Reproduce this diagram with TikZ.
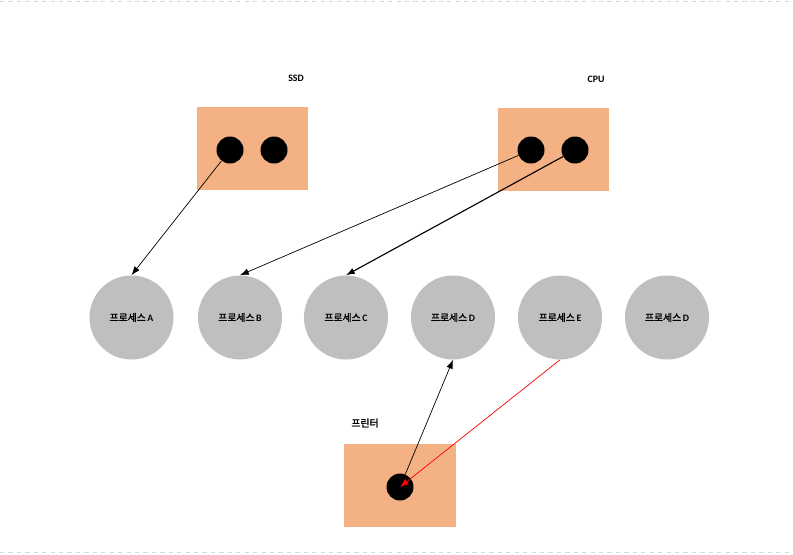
\documentclass[tikz,border=0pt]{standalone}
\usepackage{fontspec}
\setmainfont{Carlito}
\newfontfamily\kr{Noto Sans CJK KR}[AutoFakeBold=2]
\usetikzlibrary{arrows.meta}
\definecolor{boxorange}{RGB}{244,177,131}
\definecolor{procgray}{RGB}{191,191,191}
\definecolor{pagegray}{RGB}{215,215,215}
\begin{document}
\begin{tikzpicture}[x=0.025cm, y=-0.025cm,
    device/.style ={fill=boxorange, minimum width=2.775cm, minimum height=2.075cm, inner sep=0pt},
    slot/.style ={circle, fill=black, inner sep=0pt, minimum size=0.675cm},
    process/.style ={circle, fill=procgray, inner sep=0pt, minimum size=2.1cm, font=\bfseries\fontsize{7}{8}\selectfont},
    devlabel/.style ={font=\bfseries\fontsize{7}{8}\selectfont},
    link/.style ={line width=0.5pt, -{Latex[length=2.2mm, width=1.6mm]}}]
   \useasboundingbox (0,0) rectangle (793,554);
   \draw[pagegray, dashed, line width=0.6pt] (0,1) -- (793,1);
   \draw[pagegray, dashed, line width=0.6pt] (0,552) -- (793,552);
   % devices
   \node[device] (ssd) at (252.5,148.5) {};
   \node[device] (cpu) at (553.5,149.5) {};
   \node[device] (printer) at (400,485.5) {};
   \node[devlabel] (ssdlabel) at (296,78) {SSD};
   \node[devlabel] (cpulabel) at (596,79) {CPU};
   \node[devlabel] (printerlabel) at (365,423) {\kr 프린터};
   \node[slot] (s1) at (230,150) {};
   \node[slot] (s2) at (274,150) {};
   \node[slot] (c1) at (531,150) {};
   \node[slot] (c2) at (575,150) {};
   \node[slot] (p1) at (400,487) {};
   % processes
   \node[process] (A) at (131.5,317.5) {{\kr 프로세스}\,A};
   \node[process] (B) at (240,317.5) {{\kr 프로세스}\,B};
   \node[process] (C) at (346,317.5) {{\kr 프로세스}\,C};
   \node[process] (D) at (453,317.5) {{\kr 프로세스}\,D};
   \node[process] (E) at (560,317.5) {{\kr 프로세스}\,E};
   \node[process] (F) at (667,317.5) {{\kr 프로세스}\,D};
   \draw[link] (s1) to (A.north);
   \draw[link] (c1) to (B.north);
   \draw[link, line width=0.8pt] (c2) to (C.north);
   \draw[link] (p1) to (D.south);
   \draw[link, red] (E.south) to (p1.center);
\end{tikzpicture}
\end{document}
